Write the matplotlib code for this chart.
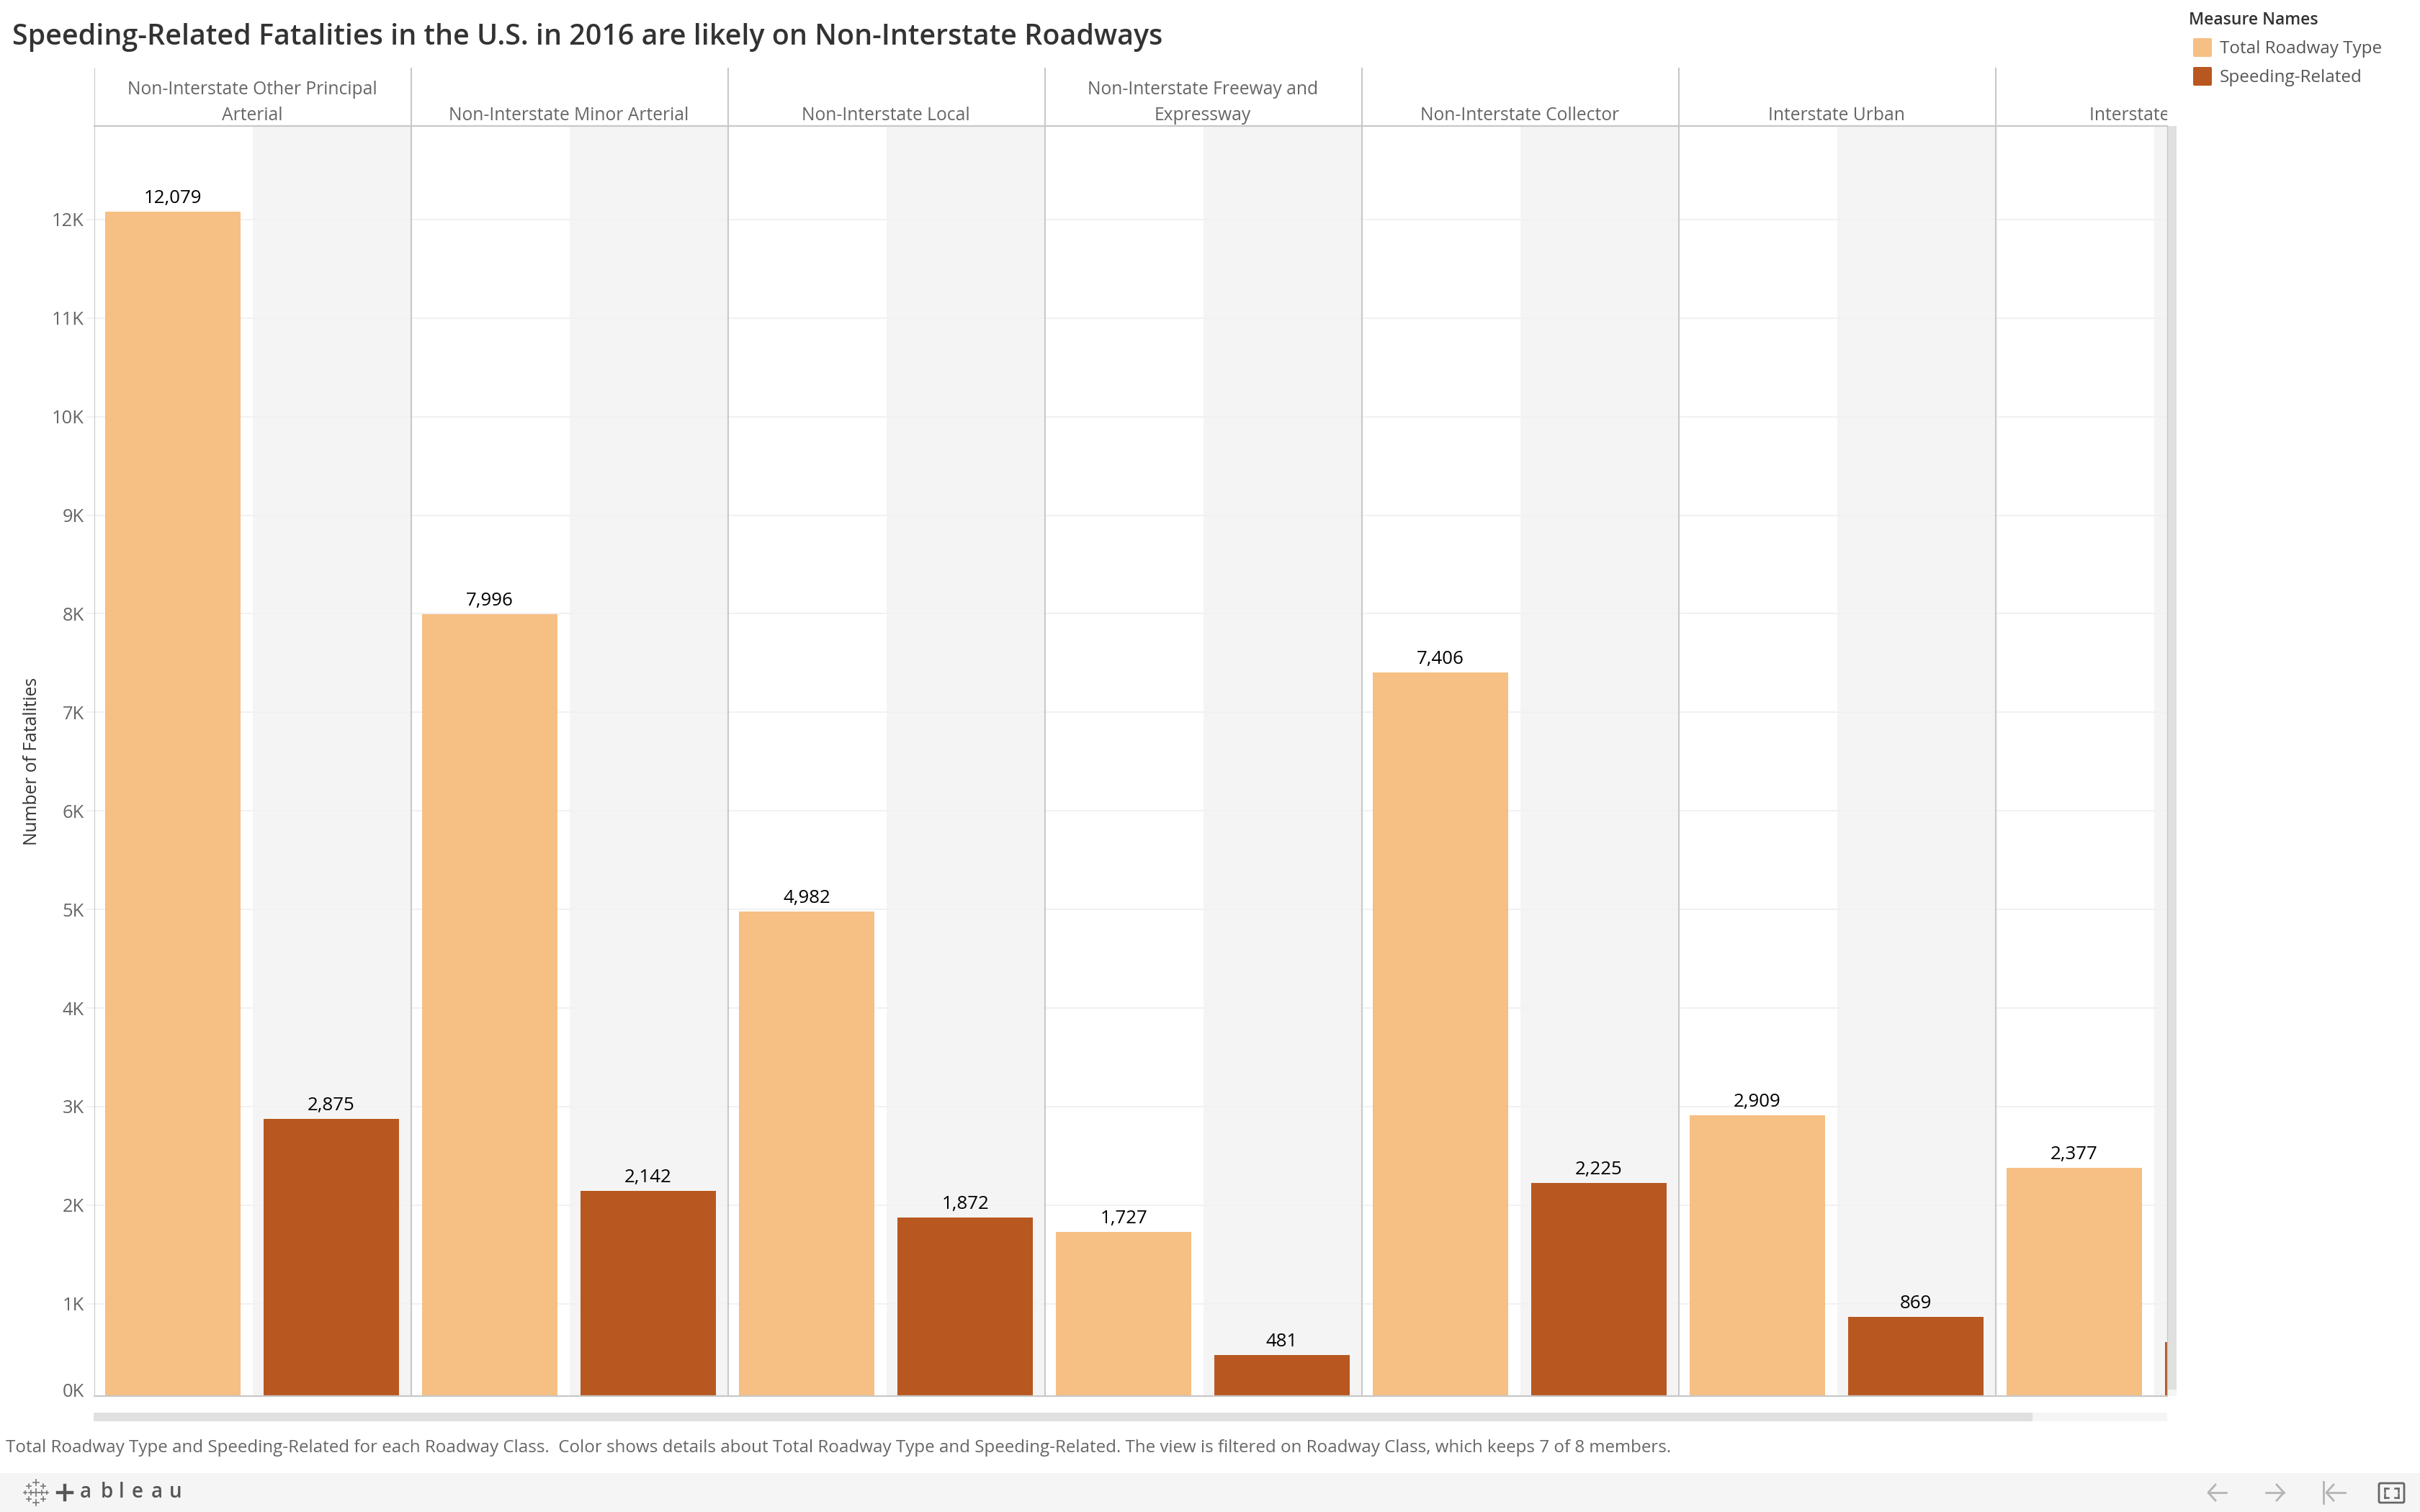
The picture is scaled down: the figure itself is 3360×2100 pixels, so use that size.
# Speeding-related fatalities by roadway class, tableau style dashboard
import matplotlib
matplotlib.use("Agg")
import matplotlib.pyplot as plt
from matplotlib.patches import Rectangle, FancyBboxPatch

plt.rcParams['font.family'] = ['Open Sans', 'DejaVu Sans']

# data
road_class = ["Non-Interstate Other Principal\nArterial", "Non-Interstate Minor Arterial",
              "Non-Interstate Local", "Non-Interstate Freeway and\nExpressway",
              "Non-Interstate Collector", "Interstate Urban", "Interstate Rural"]
total_roadway = [12079, 7996, 4982, 1727, 7406, 2909, 2377]
speeding = [2875, 2142, 1872, 481, 2225, 869, 610]
y_ticks = [1000, 2000, 3000, 4000, 5000, 6000, 7000, 8000, 9000, 10000, 11000, 12000]
y_tick_labels = ["1K", "2K", "3K", "4K", "5K", "6K", "7K", "8K", "9K", "10K", "11K", "12K"]
zero_label = "0K"
series_names = ["Total Roadway Type", "Speeding-Related"]

title = "Speeding-Related Fatalities in the U.S. in 2016 are likely on Non-Interstate Roadways"
caption = ("Total Roadway Type and Speeding-Related for each Roadway Class.  Color shows details about "
           "Total Roadway Type and Speeding-Related. The view is filtered on Roadway Class, which keeps 7 of 8 members.")

LIGHT = "#f6bf83"
DARK = "#b85820"
LINE = "#c8c8c8"
GRID = "#f1f1f1"
BAND = "#f4f4f4"
W, H = 3360, 2100
LEFT, RIGHT, TOP, BOTTOM = 131, 3009, 175, 1939
HEAD_TOP = 94
PANEL = 440
PX_PER_K = 136.9
Y_MIN = 63  # the plot cuts off just above zero


def add_axes_px(fig, x0, y0, x1, y1):
    return fig.add_axes([x0 / W, 1 - y1 / H, (x1 - x0) / W, (y1 - y0) / H])


def px_to_pt(n):
    return n * 72 / 200


fig = plt.figure(figsize=(16.8, 10.5), dpi=200, facecolor="white")

# page furniture, in pixel coordinates
page = add_axes_px(fig, 0, 0, W, H)
page.set_xlim(0, W)
page.set_ylim(H, 0)
page.axis("off")
page.add_patch(Rectangle((0, 2046), W, 54, color="#f5f5f5", lw=0))
page.add_patch(Rectangle((131, 1962), 2878, 12, color="#f5f5f5", lw=0))
page.add_patch(Rectangle((130, 1962), 2692, 12, color="#e0e0e0", lw=0))
page.add_patch(Rectangle((3009, 175), 13, 1764, color="#f5f5f5", lw=0))
page.add_patch(Rectangle((3009, 175), 13, 1755, color="#e0e0e0", lw=0))

page.text(17, 52, title, fontsize=14.2, color="#333333", va="center", ha="left", fontweight="semibold")
page.text(8, 2011, caption, fontsize=8.7, color="#666666", va="center", ha="left")
page.text(45, 1057, "Number of Fatalities", fontsize=8.85, color="#333333", rotation=90, va="center", ha="center")
page.text(117, 1934, zero_label, fontsize=9.2, color="#666666", va="center", ha="right")

# legend
page.text(3039, 28, "Measure Names", fontsize=8.3, color="#333333", va="center", ha="left", fontweight="semibold")
for name, col, y in zip(series_names, [LIGHT, DARK], [66, 106]):
    page.add_patch(FancyBboxPatch((3045, y - 13), 26, 26, boxstyle="round,pad=0,rounding_size=2", color=col, lw=0))
    page.text(3082, y + 2, name, fontsize=8.75, color="#555555", va="center", ha="left")

# tableau logo
for cx, cy, s in [(50, 2059, 4), (40, 2064, 3), (60, 2064, 3), (35, 2073, 2), (43, 2073, 3), (50, 2073, 5),
                  (58, 2073, 3), (65, 2073, 2), (40, 2082, 3), (60, 2082, 3), (50, 2087, 4)]:
    page.plot([cx - s, cx + s], [cy, cy], color="#777777", lw=0.6)
    page.plot([cx, cx], [cy - s, cy + s], color="#777777", lw=0.6)
page.plot([80, 100], [2073, 2073], color="#555555", lw=1.6)
page.plot([90, 90], [2063, 2083], color="#555555", lw=1.6)
for ch, cx in zip("ableau", [119, 148, 169, 191, 218, 244]):
    page.text(cx, 2073, ch, fontsize=10, color="#555555", va="center", ha="center", fontweight="semibold")

# navigation icons
for x0, x1, pointing_left in [(3066, 3091, True), (3146, 3171, False), (3230, 3256, True)]:
    tip, back = (x0, x0 + 10) if pointing_left else (x1, x1 - 10)
    page.plot([x0, x1], [2073, 2073], color="#b4b4b4", lw=1.0)
    page.plot([back, tip, back], [2062, 2073, 2084], color="#b4b4b4", lw=1.0)
page.plot([3226, 3226], [2058, 2088], color="#b4b4b4", lw=1.0)
page.add_patch(FancyBboxPatch((3303, 2060), 35, 27, boxstyle="round,pad=0,rounding_size=2", fc="none", ec="#666666", lw=1.0))
for sx, sy in [(3311, 2067), (3330, 2067), (3311, 2080), (3330, 2080)]:
    dx = 5 if sx < 3320 else -5
    dy = 5 if sy < 2073 else -5
    page.plot([sx, sx + dx], [sy, sy], color="#666666", lw=0.9)
    page.plot([sx, sx], [sy, sy + dy], color="#666666", lw=0.9)

# main plot, one unit of x is one roadway class panel
ax = add_axes_px(fig, LEFT, TOP, RIGHT, BOTTOM)
ax.patch.set_alpha(0)
ax.set_xlim(0, (RIGHT - LEFT) / PANEL)
ax.set_ylim(Y_MIN, Y_MIN + (BOTTOM - TOP) / PX_PER_K * 1000)

bar_width = 188 / PANEL
for i in range(len(road_class)):
    ax.axvspan(i + 0.5, i + 1, color=BAND, lw=0, zorder=0)
    ax.axvline(i, color=LINE, lw=0.75, zorder=1)
ax.set_yticks(y_ticks)
ax.set_yticklabels(y_tick_labels, fontsize=9.2, color="#666666")
ax.tick_params(axis="y", length=4, width=0.7, color=GRID, pad=1.2)
ax.tick_params(axis="x", length=0, labelbottom=False)
ax.grid(axis="y", color=GRID, lw=0.7, zorder=0.5)
ax.set_axisbelow(True)

for i, (a, b) in enumerate(zip(total_roadway, speeding)):
    ax.bar(i + 0.248, a, bar_width, color=LIGHT, zorder=2)
    ax.bar(i + 0.748, b, bar_width, color=DARK, zorder=2)
    ax.annotate(f"{a:,}", (i + 0.248, a), xytext=(0, px_to_pt(12)), textcoords="offset points",
                ha="center", va="baseline", fontsize=9.3, color="black", zorder=3, annotation_clip=True)
    # last panel is cut by the scroll view, its second label is out of sight
    if i < len(road_class) - 1:
        ax.annotate(f"{b:,}", (i + 0.748, b), xytext=(0, px_to_pt(12)), textcoords="offset points",
                    ha="center", va="baseline", fontsize=9.3, color="black", zorder=3)

for side in ["top", "left"]:
    ax.spines[side].set_visible(False)
ax.spines["bottom"].set_color(LINE)
ax.spines["bottom"].set_linewidth(0.8)
ax.spines["right"].set_color(LINE)
ax.spines["right"].set_linewidth(0.5)

# header strip with the roadway class names
head = add_axes_px(fig, LEFT, HEAD_TOP, RIGHT, TOP)
head.patch.set_alpha(0)
head.set_xlim(ax.get_xlim())
head.set_ylim(0, TOP - HEAD_TOP)
head.set_xticks([])
head.set_yticks([])
for side in ["top", "left", "right"]:
    head.spines[side].set_visible(False)
head.spines["bottom"].set_color(LINE)
head.spines["bottom"].set_linewidth(0.8)
for i, name in enumerate(road_class):
    head.axvline(i, color=LINE, lw=0.75)
    for n, line in enumerate(reversed(name.split("\n"))):
        t = head.text(i + 0.498, 8 + 36 * n, line, fontsize=8.85, color="#666666", ha="center", va="baseline")
        t.set_clip_on(True)

fig.savefig("out.png", dpi=200)
